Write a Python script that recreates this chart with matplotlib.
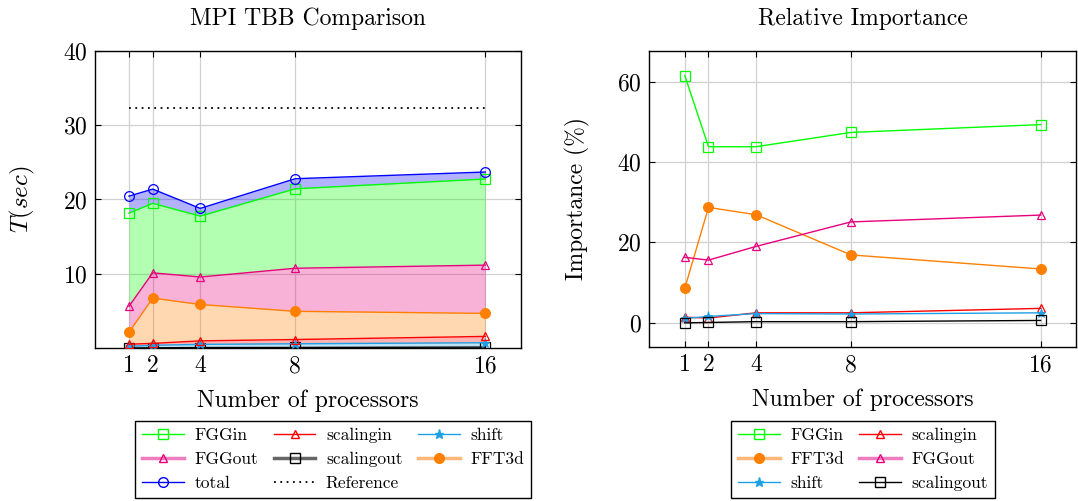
import numpy as np
import matplotlib.pyplot as plt

plt.rcParams['font.family'] = ['cmr10', 'DejaVu Serif']
plt.rcParams['mathtext.fontset'] = 'cm'
plt.rcParams['axes.unicode_minus'] = False
plt.rcParams['axes.formatter.use_mathtext'] = True

procs = [1, 2, 4, 8, 16]

# time per part (sec), stacked in the left plot
t_scalingout = [0.0, 0.02, 0.06, 0.07, 0.12]
t_shift = [0.22, 0.34, 0.43, 0.50, 0.59]
t_scalingin = [0.29, 0.26, 0.47, 0.57, 0.85]
t_fft3d = [1.6, 6.1, 4.9, 3.8, 3.1]
t_fggout = [3.5, 3.4, 3.7, 5.8, 6.5]
t_fggin = [12.55, 9.36, 8.2, 10.7, 11.6]
t_total = [20.45, 21.4, 18.8, 22.8, 23.7]
t_reference = [32.3, 32.3]

# relative importance (%)
p_fggin = [61.5, 43.8, 43.8, 47.35, 49.3]
p_fft3d = [8.6, 28.7, 26.9, 16.9, 13.4]
p_fggout = [16.3, 15.6, 19.0, 25.1, 26.8]
p_scalingin = [1.4, 1.2, 2.5, 2.5, 3.6]
p_shift = [1.1, 1.6, 2.3, 2.2, 2.5]
p_scalingout = [0.0, 0.1, 0.3, 0.3, 0.6]

GREEN = '#00ff00'
RED = '#ff0000'
CYAN = '#1ea0e6'
MAGENTA = '#e8007d'
ORANGE = '#ff8000'
BLUE = '#0000ff'

MS = {'o': 7, 's': 6.5, '^': 6, '*': 6.5}

fig = plt.figure(figsize=(10.78, 5.01), dpi=100)
ax1 = fig.add_axes([0.0881, 0.3054, 0.3952, 0.5928])
ax2 = fig.add_axes([0.6020, 0.3074, 0.3961, 0.5908])

for ax in (ax1, ax2):
    ax.grid(True, color='#d0d0d0', linewidth=0.9)
    ax.set_axisbelow(True)
    ax.tick_params(direction='in', top=True, right=True, labelsize=17, length=4, pad=5)
    ax.set_xticks(procs)
    ax.set_xticklabels([str(p) for p in procs])
    ax.set_xlabel('Number of processors', fontsize=17, labelpad=9)
    for s in ax.spines.values():
        s.set_linewidth(1.0)


def draw(ax, x, y, col, mk, mfc):
    h, = ax.plot(x, y, color=col, marker=mk, mfc=mfc, mec=col, ms=MS[mk],
                 lw=1.0, mew=0.9 if mk != '*' else 0.6, zorder=4)
    return h


# ---- left: stacked times
layers = [
    ('scalingout', t_scalingout, 'black', 's', 'none'),
    ('shift', t_shift, CYAN, '*', CYAN),
    ('scalingin', t_scalingin, RED, '^', 'none'),
    ('FFT3d', t_fft3d, ORANGE, 'o', ORANGE),
    ('FGGout', t_fggout, MAGENTA, '^', 'none'),
    ('FGGin', t_fggin, GREEN, 's', 'none'),
]
prev = np.zeros(len(procs))
for name, vals, col, mk, mfc in layers:
    cum = prev + np.array(vals)
    ax1.fill_between(procs, prev, cum, color=col, alpha=0.3, linewidth=0)
    draw(ax1, procs, cum, col, mk, mfc)
    prev = cum
ax1.fill_between(procs, prev, t_total, color=BLUE, alpha=0.3, linewidth=0)
draw(ax1, procs, t_total, BLUE, 'o', 'none')
ref_line, = ax1.plot([procs[0], procs[-1]], t_reference, color='black',
                     ls=(0, (1, 2.5)), lw=1.3)

ax1.set_xlim(-0.43, 17.5)
ax1.set_ylim(0, 40)
ax1.set_yticks([10, 20, 30, 40])
ax1.set_ylabel('$T(sec)$', fontsize=18, labelpad=19)
ax1.set_title('MPI TBB Comparison', fontsize=17, pad=19)


def leg_handle(col, mk, mfc, mec=None, thick=False):
    return plt.Line2D([], [], color=col, lw=2.5 if thick else 1.0, marker=mk,
                      mfc=mfc, mec=mec or col, ms=MS[mk])


lh = [
    (leg_handle(GREEN, 's', 'none'), 'FGGin'),
    (leg_handle('#f07cc0', '^', 'none', MAGENTA, True), 'FGGout'),
    (leg_handle(BLUE, 'o', 'none'), 'total'),
    (leg_handle(RED, '^', 'none'), 'scalingin'),
    (leg_handle('#666666', 's', 'none', 'black', True), 'scalingout'),
    (ref_line, 'Reference'),
    (leg_handle(CYAN, '*', CYAN), 'shift'),
    (leg_handle('#ffb878', 'o', ORANGE, ORANGE, True), 'FFT3d'),
]
leg_kw = dict(loc='upper center', fontsize=12.5, frameon=True, fancybox=False,
              edgecolor='black', framealpha=1, handlelength=2.4,
              labelspacing=0.48, handletextpad=0.6, borderpad=0.42,
              borderaxespad=0)
leg1 = fig.legend([h for h, _ in lh], [l for _, l in lh], ncol=3,
                  bbox_to_anchor=(0.309, 0.16), columnspacing=0.9, **leg_kw)
leg1.get_frame().set_linewidth(1.0)

# ---- right: relative importance
series = [
    ('FGGin', p_fggin, GREEN, 's', 'none'),
    ('scalingin', p_scalingin, RED, '^', 'none'),
    ('FFT3d', p_fft3d, ORANGE, 'o', ORANGE),
    ('FGGout', p_fggout, MAGENTA, '^', 'none'),
    ('shift', p_shift, CYAN, '*', CYAN),
    ('scalingout', p_scalingout, 'black', 's', 'none'),
]
for name, vals, col, mk, mfc in series:
    draw(ax2, procs, vals, col, mk, mfc)

ax2.set_xlim(-0.51, 17.49)
ax2.set_ylim(-6, 67.6)
ax2.set_yticks([0, 20, 40, 60])
ax2.set_ylabel('Importance (%)', fontsize=17, labelpad=20)
ax2.set_title('Relative Importance', fontsize=17, pad=19)

rh = [
    (leg_handle(GREEN, 's', 'none'), 'FGGin'),
    (leg_handle('#ffb878', 'o', ORANGE, ORANGE, True), 'FFT3d'),
    (leg_handle(CYAN, '*', CYAN), 'shift'),
    (leg_handle(RED, '^', 'none'), 'scalingin'),
    (leg_handle('#f07cc0', '^', 'none', MAGENTA, True), 'FGGout'),
    (leg_handle('black', 's', 'none'), 'scalingout'),
]
leg2 = fig.legend([h for h, _ in rh], [l for _, l in rh], ncol=2,
                  bbox_to_anchor=(0.8006, 0.16), columnspacing=0.9, **leg_kw)
leg2.get_frame().set_linewidth(1.0)

fig.savefig('out.png', dpi=100)
